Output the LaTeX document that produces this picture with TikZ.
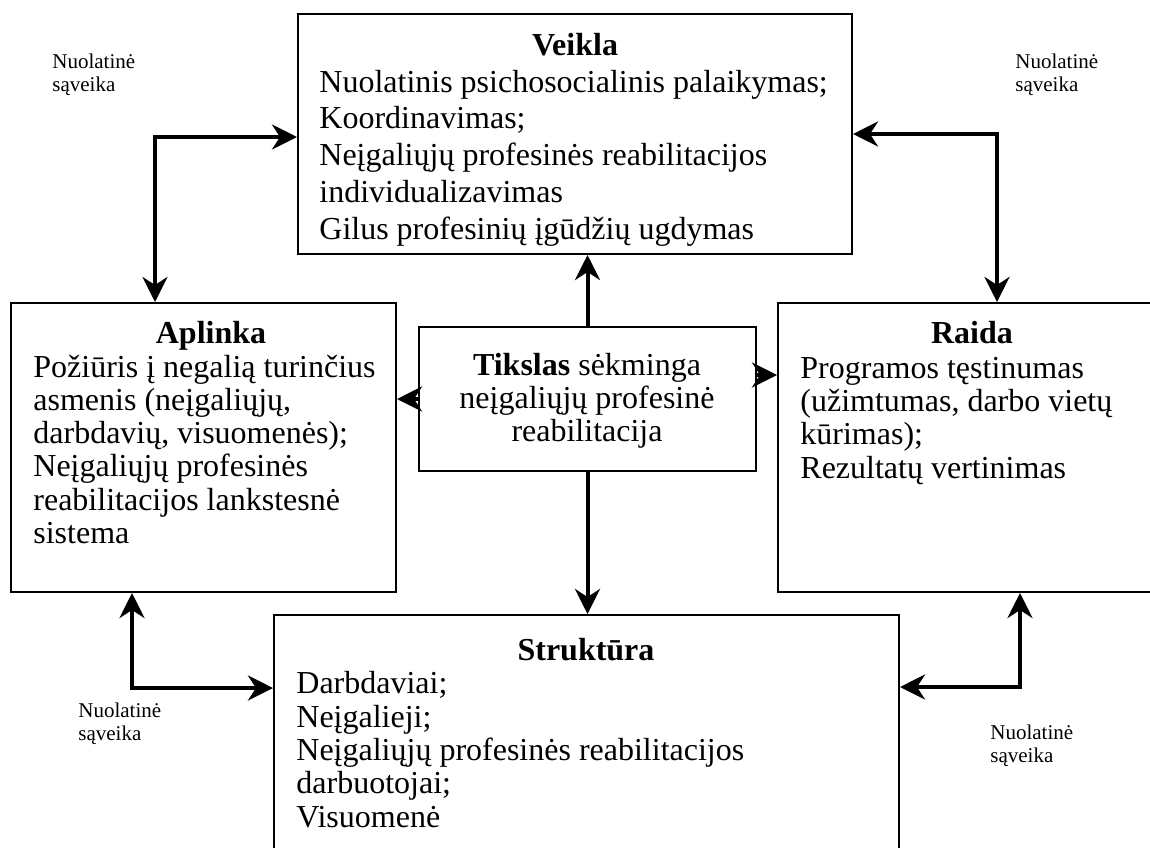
\documentclass[tikz,border=0pt]{standalone}
\usepackage{fontspec}
\setmainfont{Liberation Serif}
\usetikzlibrary{arrows.meta,fit}
\tikzset{
  box/.style={draw, line width=1pt, inner sep=0pt},
  tip/.tip={Stealth[length=12.5pt,width=12.5pt,inset=4pt]},
  conn/.style={line width=2pt, -tip},
  dconn/.style={line width=2pt, tip-tip},
  body/.style={font=\fontsize{16}{16.65}\selectfont, align=left, inner sep=0pt, anchor=base west},
  ttl/.style={font=\fontsize{16}{16.65}\selectfont\bfseries, inner sep=0pt, anchor=base},
  lbl/.style={font=\fontsize{10.5}{11.5}\selectfont, align=left, inner sep=0pt, anchor=base west}
}
\begin{document}
\begin{tikzpicture}[x=0.5pt,y=-0.5pt]
\clip (0,0) rectangle (1150,847);
\useasboundingbox (0,0) rectangle (1150,847);
% boxes
\node[box, fit={(298,14) (852,254)}] (veikla) {};
\node[box, fit={(11,303) (396,592)}] (aplinka) {};
\node[box, fit={(778,303) (1166,592)}] (raida) {};
\node[box, fit={(274,615) (899,880)}] (struktura) {};
\node[box, fit={(419,327) (756,471)}] (tikslas) {};
% texts (anchor base = baseline of the last line)
\node[ttl] (veiklaT) at (575,55) {Veikla};
\node[body, font=\fontsize{16}{18.35}\selectfont] (veiklaB) at (319,239) {Nuolatinis psichosocialinis palaikymas;\\Koordinavimas;\\Neįgaliųjų profesinės reabilitacijos\\individualizavimas\\Gilus profesinių įgūdžių ugdymas};
\node[ttl] (aplinkaT) at (211,343) {Aplinka};
\node[body] (aplinkaB) at (33,543.5) {Požiūris į negalią turinčius\\asmenis (neįgaliųjų,\\darbdavių, visuomenės);\\Neįgaliųjų profesinės\\reabilitacijos lankstesnė\\sistema};
\node[ttl] (raidaT) at (972,343) {Raida};
\node[body] (raidaB) at (800,478) {Programos tęstinumas\\(užimtumas, darbo vietų\\kūrimas);\\Rezultatų vertinimas};
\node[ttl] (strukturaT) at (586,660) {Struktūra};
\node[body] (strukturaB) at (296,827) {Darbdaviai;\\Neįgalieji;\\Neįgaliųjų profesinės reabilitacijos\\darbuotojai;\\Visuomenė};
\node[font=\fontsize{16}{16.65}\selectfont, align=center, inner sep=0pt, anchor=base] (tikslasT) at (587,441.6) {\textbf{Tikslas} sėkminga\\neįgaliųjų profesinė\\reabilitacija};
% labels
\node[lbl] (l1) at (52,91) {Nuolatinė\\sąveika};
\node[lbl] (l2) at (1015,91) {Nuolatinė\\sąveika};
\node[lbl] (l3) at (78,740) {Nuolatinė\\sąveika};
\node[lbl] (l4) at (990,762) {Nuolatinė\\sąveika};
% elbow coordinates
\coordinate (c1) at (155,137);
\coordinate (c2) at (997,134);
\coordinate (c3) at (132,688);
\coordinate (c4) at (1020,687);
\coordinate (cl) at (0,399);
\coordinate (cr) at (0,375);
% connectors
\draw[dconn] (c1 |- aplinka.north) -- (c1) -- (veikla.west |- c1);
\draw[dconn] (veikla.east |- c2) -- (c2) -- (c2 |- raida.north);
\draw[dconn] (c3 |- aplinka.south) -- (c3) -- (struktura.west |- c3);
\draw[dconn] (c4 |- raida.south) -- (c4) -- (struktura.east |- c4);
\draw[conn] (tikslas.north) -- (tikslas.north |- veikla.south);
\draw[conn] (tikslas.south) -- (tikslas.south |- struktura.north);
\draw[conn] (tikslas.west |- cl) -- (aplinka.east |- cl);
\draw[conn] (tikslas.east |- cr) -- (raida.west |- cr);
\end{tikzpicture}
\end{document}
